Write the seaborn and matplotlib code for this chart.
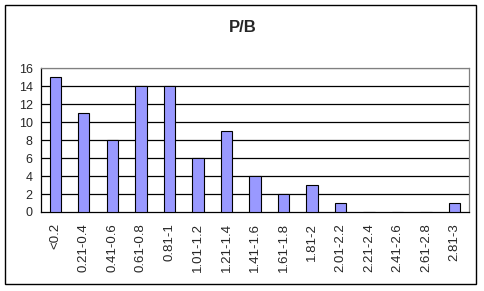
import matplotlib
matplotlib.use("Agg")
import matplotlib.pyplot as plt
import seaborn as sns
import pandas as pd
import numpy as np
from matplotlib.patches import Rectangle

categories = ["<0.2", "0.21-0.4", "0.41-0.6", "0.61-0.8", "0.81-1", "1.01-1.2", "1.21-1.4",
              "1.41-1.6", "1.61-1.8", "1.81-2", "2.01-2.2", "2.21-2.4", "2.41-2.6", "2.61-2.8", "2.81-3"]
counts = [15, 11, 8, 14, 14, 6, 9, 4, 2, 3, 1, 0, 0, 0, 1]
yticks = [0, 2, 4, 6, 8, 10, 12, 14, 16]
title = "P/B"

sns.set_style("white")
plt.rcParams['font.family'] = ['Liberation Sans', 'DejaVu Sans']

fig = plt.figure(figsize=(4.85, 2.91), dpi=100)
ax = fig.add_axes([0.0845, 0.2715, 0.8825, 0.4945])

df = pd.DataFrame({"cat": categories, "n": counts})
sns.barplot(data=df, x="cat", y="n", ax=ax, color="#9999FF", saturation=1,
            width=0.4, edgecolor="black", linewidth=0.8, zorder=3)

ax.set_xlim(-0.5, len(categories) - 0.5)
ax.set_ylim(0, 16)
ax.set_yticks(yticks)
ax.set_yticklabels([str(v) for v in yticks], fontsize=9)
for v in yticks[1:-1]:
    ax.axhline(v, color="black", linewidth=0.9, zorder=1)
ax.axhline(16, color="#808080", linewidth=0.9, zorder=1)

ax.set_xticks(np.arange(len(categories)))
ax.set_xticklabels(categories, rotation=90, fontsize=9.5)
ax.tick_params(axis="x", length=0, pad=8)
# boundary tick marks
ax.set_xticks(np.arange(len(categories) + 1) - 0.5, minor=True)
ax.tick_params(axis="x", which="minor", length=4, width=0.8, color="black", direction="out")
ax.tick_params(axis="y", length=4, width=0.8, color="black", direction="out", pad=2)

for s in ["left", "bottom"]:
    ax.spines[s].set_color("black")
    ax.spines[s].set_linewidth(0.9)
for s in ["right", "top"]:
    ax.spines[s].set_color("#808080")
    ax.spines[s].set_linewidth(0.9)
for s in ax.spines.values():
    s.set_visible(True)
ax.set_xlabel("")
ax.set_ylabel("")

fig.text(0.5, 1 - 28 / 291, title, ha="center", va="center", fontsize=12, fontweight="bold")

fig.patches.append(Rectangle((5 / 485, 1 - 284 / 291), 471 / 485, 279 / 291,
                             transform=fig.transFigure, fill=False,
                             edgecolor="black", linewidth=1.0))

fig.savefig("out.png", dpi=100)
